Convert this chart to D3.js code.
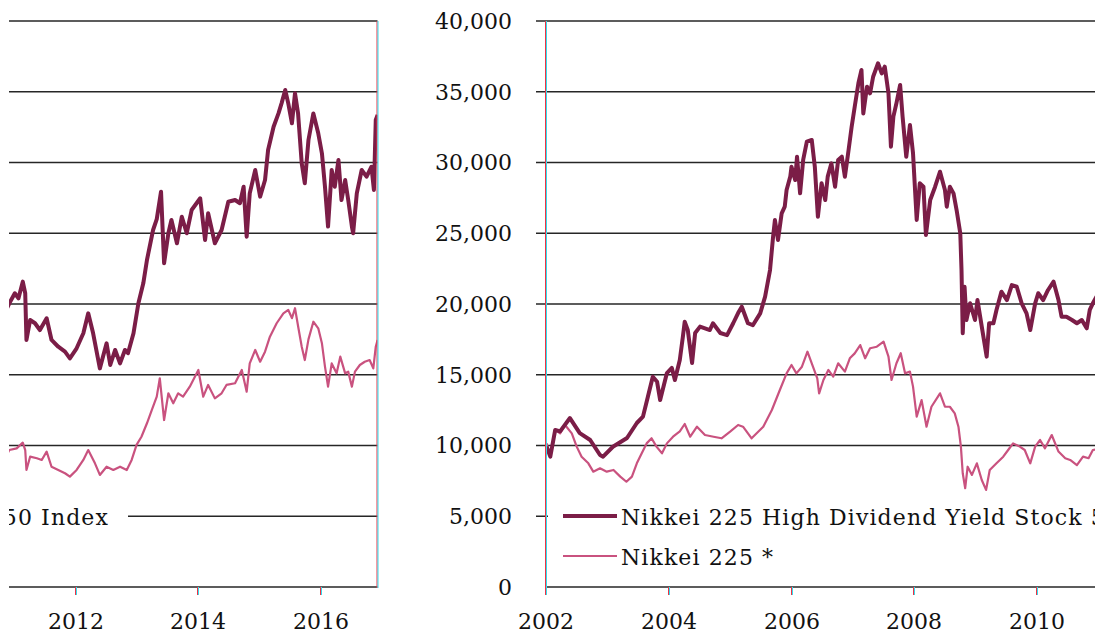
<!DOCTYPE html>
<html>
<head>
<meta charset="utf-8">
<script src="https://cdn.jsdelivr.net/npm/d3@7"></script>
<style>
  body { margin: 0; background: #fff; }
  svg { display: block; }
</style>
</head>
<body>
<div id="chart"></div>
<script>
// year (decimal), index level
var highDividend = [
  [2002.01, 9920], [2002.07, 9210], [2002.15, 11100], [2002.23, 11000], [2002.39, 11940], [2002.55, 10880],
  [2002.72, 10390], [2002.88, 9330], [2002.93, 9210], [2003.09, 9910], [2003.32, 10530], [2003.48, 11590],
  [2003.58, 12040], [2003.66, 13450], [2003.74, 14860], [2003.81, 14500], [2003.86, 13210], [2003.97, 15120],
  [2004.05, 15480], [2004.10, 14630], [2004.18, 16040], [2004.23, 17690], [2004.26, 18750], [2004.31, 18160],
  [2004.38, 15830], [2004.43, 17950], [2004.51, 18400], [2004.67, 18160], [2004.72, 18640], [2004.84, 17950],
  [2004.95, 17800], [2005.05, 18640], [2005.13, 19360], [2005.19, 19810], [2005.29, 18640], [2005.37, 18500],
  [2005.49, 19340], [2005.57, 20520], [2005.65, 22400], [2005.70, 24760], [2005.73, 25940], [2005.78, 24520],
  [2005.84, 26410], [2005.89, 26880], [2005.92, 28060], [2005.98, 29000], [2006.00, 29700], [2006.06, 28760],
  [2006.09, 30410], [2006.14, 27820], [2006.19, 30180], [2006.25, 31470], [2006.33, 31590], [2006.38, 29700],
  [2006.43, 26170], [2006.49, 28530], [2006.55, 27350], [2006.59, 29000], [2006.65, 29940], [2006.71, 28290],
  [2006.76, 30180], [2006.82, 30410], [2006.87, 29000], [2006.93, 30880], [2006.98, 32530], [2007.03, 33940],
  [2007.09, 35600], [2007.14, 36540], [2007.17, 33470], [2007.23, 35360], [2007.28, 34890], [2007.33, 36060],
  [2007.41, 37010], [2007.47, 36300], [2007.52, 36770], [2007.58, 34890], [2007.62, 31120], [2007.66, 33240],
  [2007.71, 34200], [2007.77, 35480], [2007.81, 33240], [2007.87, 30410], [2007.93, 32650], [2007.98, 30650],
  [2008.04, 25940], [2008.09, 28530], [2008.15, 28290], [2008.19, 24880], [2008.26, 27350], [2008.34, 28290],
  [2008.42, 29350], [2008.50, 28060], [2008.53, 26880], [2008.58, 28290], [2008.64, 27820], [2008.69, 26640],
  [2008.75, 25000], [2008.77, 22400], [2008.79, 17930], [2008.82, 21220], [2008.85, 18870], [2008.91, 20050],
  [2008.99, 18870], [2009.03, 20280], [2009.10, 18400], [2009.18, 16280], [2009.22, 18640], [2009.29, 18640],
  [2009.34, 19580], [2009.42, 20870], [2009.51, 20280], [2009.59, 21340], [2009.67, 21220], [2009.75, 20050],
  [2009.83, 19340], [2009.89, 18160], [2009.97, 20050], [2010.02, 20760], [2010.10, 20280], [2010.18, 20990],
  [2010.27, 21580], [2010.35, 20280], [2010.40, 19100], [2010.48, 19100], [2010.57, 18870], [2010.65, 18640],
  [2010.73, 18870], [2010.81, 18280], [2010.86, 19580], [2010.91, 20050], [2011.00, 20760], [2011.06, 20400],
  [2011.13, 21580], [2011.17, 20760], [2011.19, 17460], [2011.25, 18870], [2011.33, 18640], [2011.41, 18160],
  [2011.52, 18990], [2011.60, 17460], [2011.71, 16980], [2011.82, 16630], [2011.90, 16160], [2012.01, 16870],
  [2012.12, 17930], [2012.20, 19340], [2012.28, 17930], [2012.39, 15450], [2012.50, 17220], [2012.56, 15690],
  [2012.64, 16750], [2012.72, 15800], [2012.80, 16750], [2012.85, 16520], [2012.94, 17930], [2013.02, 20050],
  [2013.10, 21460], [2013.16, 23110], [2013.26, 25230], [2013.32, 26000], [2013.39, 27940], [2013.44, 22880],
  [2013.51, 25000], [2013.56, 25940], [2013.65, 24290], [2013.73, 26170], [2013.81, 25000], [2013.89, 26640],
  [2014.03, 27470], [2014.11, 24520], [2014.16, 26410], [2014.27, 24290], [2014.38, 25230], [2014.49, 27230],
  [2014.60, 27350], [2014.68, 27120], [2014.74, 28290], [2014.79, 24760], [2014.84, 27820], [2014.93, 29470],
  [2015.01, 27590], [2015.09, 28760], [2015.14, 30880], [2015.23, 32530], [2015.31, 33470], [2015.36, 34180],
  [2015.42, 35120], [2015.47, 34180], [2015.53, 32770], [2015.58, 34890], [2015.63, 33470], [2015.69, 29940],
  [2015.74, 28530], [2015.80, 31590], [2015.88, 33470], [2015.96, 32060], [2016.02, 30650], [2016.07, 28290],
  [2016.12, 25470], [2016.18, 29470], [2016.23, 28290], [2016.29, 30180], [2016.34, 27350], [2016.40, 28760],
  [2016.45, 27350], [2016.51, 25470], [2016.53, 25000], [2016.59, 27820], [2016.67, 29470], [2016.75, 29000],
  [2016.83, 29700], [2016.87, 28060], [2016.90, 33000], [2016.93, 33360]
];

var nikkei225 = [
  [2002.01, 10150], [2002.07, 9210], [2002.15, 11100], [2002.23, 10860], [2002.31, 11450], [2002.42, 10860],
  [2002.50, 9920], [2002.58, 9210], [2002.69, 8740], [2002.77, 8150], [2002.88, 8390], [2002.99, 8150],
  [2003.10, 8270], [2003.21, 7800], [2003.31, 7440], [2003.40, 7800], [2003.48, 8740], [2003.56, 9450],
  [2003.64, 10150], [2003.72, 10510], [2003.80, 9920], [2003.89, 9450], [2003.97, 10150], [2004.07, 10620],
  [2004.18, 11000], [2004.26, 11520], [2004.35, 10620], [2004.46, 11330], [2004.59, 10740], [2004.73, 10620],
  [2004.86, 10510], [2005.00, 10980], [2005.13, 11450], [2005.21, 11330], [2005.35, 10510], [2005.54, 11330],
  [2005.68, 12510], [2005.81, 13920], [2005.92, 15100], [2006.00, 15690], [2006.08, 15100], [2006.17, 15570],
  [2006.26, 16630], [2006.33, 15810], [2006.42, 14750], [2006.45, 13690], [2006.52, 14630], [2006.60, 15340],
  [2006.68, 14870], [2006.76, 15810], [2006.87, 15220], [2006.95, 16160], [2007.03, 16510], [2007.12, 17100],
  [2007.20, 16160], [2007.28, 16870], [2007.39, 16980], [2007.50, 17340], [2007.58, 16280], [2007.63, 14630],
  [2007.71, 15810], [2007.78, 16520], [2007.85, 15100], [2007.93, 15220], [2007.98, 14160], [2008.04, 12040],
  [2008.12, 13210], [2008.20, 11330], [2008.28, 12740], [2008.42, 13690], [2008.50, 12740], [2008.58, 12740],
  [2008.66, 12270], [2008.72, 11330], [2008.76, 9920], [2008.79, 8040], [2008.83, 6980], [2008.87, 8500],
  [2008.94, 7920], [2009.02, 8740], [2009.10, 7560], [2009.17, 6860], [2009.23, 8270], [2009.34, 8740],
  [2009.45, 9210], [2009.53, 9680], [2009.61, 10150], [2009.72, 9920], [2009.80, 9680], [2009.89, 8740],
  [2009.97, 9920], [2010.05, 10390], [2010.13, 9800], [2010.24, 10740], [2010.35, 9570], [2010.46, 9100],
  [2010.54, 8980], [2010.65, 8620], [2010.75, 9210], [2010.84, 9100], [2010.91, 9680], [2011.03, 9800],
  [2011.13, 10200], [2011.17, 9680], [2011.19, 8270], [2011.25, 9210], [2011.36, 9100], [2011.44, 8980],
  [2011.52, 9570], [2011.60, 8500], [2011.71, 8270], [2011.82, 8040], [2011.90, 7800], [2012.01, 8270],
  [2012.12, 8980], [2012.20, 9680], [2012.31, 8740], [2012.39, 7920], [2012.50, 8500], [2012.61, 8270],
  [2012.72, 8500], [2012.83, 8270], [2012.91, 8980], [2012.99, 10040], [2013.07, 10620], [2013.16, 11570],
  [2013.24, 12510], [2013.32, 13450], [2013.37, 14750], [2013.44, 11800], [2013.51, 13690], [2013.59, 12980],
  [2013.67, 13690], [2013.75, 13450], [2013.86, 14160], [2014.00, 15340], [2014.08, 13450], [2014.16, 14280],
  [2014.27, 13330], [2014.38, 13690], [2014.46, 14280], [2014.60, 14400], [2014.71, 15340], [2014.79, 13800],
  [2014.84, 15800], [2014.93, 16750], [2015.01, 15920], [2015.09, 16630], [2015.17, 17690], [2015.28, 18640],
  [2015.39, 19340], [2015.47, 19580], [2015.53, 19000], [2015.58, 19700], [2015.64, 18200], [2015.69, 16980],
  [2015.74, 16040], [2015.80, 17500], [2015.88, 18750], [2015.96, 18280], [2016.02, 17220], [2016.07, 15570],
  [2016.12, 14160], [2016.18, 15800], [2016.26, 15100], [2016.32, 16280], [2016.40, 15100], [2016.45, 15220],
  [2016.51, 14160], [2016.56, 15220], [2016.64, 15690], [2016.72, 15920], [2016.80, 16040], [2016.86, 15450],
  [2016.90, 16980], [2016.93, 17460]
];

var yTicks = [0, 5000, 10000, 15000, 20000, 25000, 30000, 35000, 40000];
var xTicksRight = [2002, 2004, 2006, 2008, 2010];
var xTicksLeft = [2012, 2014, 2016];
var seriesNames = ["Nikkei 225 High Dividend Yield Stock 50 Index", "Nikkei 225 *"];
var seriesColours = ["#7b1d47", "#c9527f"];
var seriesWidths = [4, 2.2];

var width = 1095, height = 634;
var font = "'DejaVu Serif', 'Liberation Serif', serif";

var svg = d3.select("#chart")
  .append("svg")
  .attr("width", width)
  .attr("height", height);

var y = d3.scaleLinear().domain([0, 40000]).range([587, 21]);

// the chart is wrapped: the later years sit on the left, the start on the right
var panels = [
  {id: "right", x: d3.scaleLinear().domain([2002, 2010]).range([546, 1037]), x0: 546, x1: 1095, ticks: xTicksRight, legendX: 621, anchor: "start"},
  {id: "left", x: d3.scaleLinear().domain([2012, 2016]).range([76, 320.7]), x0: 9, x1: 377.5, ticks: xTicksLeft, legendX: 109, anchor: "end"}
];

var defs = svg.append("defs");

panels.forEach(function(p) {
  defs.append("clipPath")
    .attr("id", "clip-" + p.id)
    .append("rect")
    .attr("x", p.x0).attr("y", 0)
    .attr("width", p.x1 - p.x0).attr("height", 588);

  var g = svg.append("g").attr("class", "panel-" + p.id);

  // gridlines
  g.selectAll(".grid")
    .data(yTicks.slice(1))
    .enter()
    .append("line")
    .attr("x1", p.id == "right" ? p.x0 - 10 : p.x0)
    .attr("x2", p.x1)
    .attr("y1", function(d) { return y(d); })
    .attr("y2", function(d) { return y(d); })
    .style("stroke", "#262626")
    .style("stroke-width", 1.7);

  var plot = g.append("g").attr("clip-path", "url(#clip-" + p.id + ")");

  var line = d3.line()
    .x(function(d) { return p.x(d[0]); })
    .y(function(d) { return y(d[1]); });

  [nikkei225, highDividend].forEach(function(s, i) {
    var k = 1 - i;
    plot.append("path")
      .datum(s)
      .attr("d", line)
      .style("fill", "none")
      .style("stroke", seriesColours[k])
      .style("stroke-width", seriesWidths[k])
      .style("stroke-linejoin", "round");
  });

  // legend box (it runs across the wrap)
  var lg = plot.append("g").attr("class", "legend");
  lg.append("rect")
    .attr("x", p.id == "right" ? 548 : 0)
    .attr("y", 498)
    .attr("width", p.id == "right" ? 560 : 128)
    .attr("height", 76)
    .style("fill", "#fff");

  seriesNames.forEach(function(name, i) {
    if (p.id == "right") {
      lg.append("line")
        .attr("x1", 563).attr("x2", 617)
        .attr("y1", 516 + i * 40).attr("y2", 516 + i * 40)
        .style("stroke", seriesColours[i])
        .style("stroke-width", seriesWidths[i]);
    }
    if (p.id == "right" || i == 0) {
      lg.append("text")
        .attr("x", p.legendX)
        .attr("y", 525 + i * 40)
        .attr("text-anchor", p.anchor)
        .text(name)
        .style("font-family", font)
        .style("font-size", "22px")
        .style("letter-spacing", "1.1px")
        .style("fill", "#111");
    }
  });

  // x axis
  g.append("line")
    .attr("x1", p.x0).attr("x2", p.x1)
    .attr("y1", 587).attr("y2", 587)
    .style("stroke", "#262626")
    .style("stroke-width", 1.7);

  var tk = g.selectAll(".xtick")
    .data(p.ticks)
    .enter()
    .append("g")
    .attr("transform", function(d) { return "translate(" + Math.round(p.x(d)) + ",0)"; });
  tk.append("line")
    .attr("x1", -0.5).attr("x2", -0.5)
    .attr("y1", 587).attr("y2", 595)
    .style("stroke", "#ee3344");
  tk.append("line")
    .attr("x1", 0.5).attr("x2", 0.5)
    .attr("y1", 587).attr("y2", 595)
    .style("stroke", "#33ddee");
  tk.append("text")
    .attr("y", 629)
    .attr("text-anchor", "middle")
    .text(function(d) { return d; })
    .style("font-family", font)
    .style("font-size", "22px")
    .style("fill", "#111");

  // vertical edge: y axis on the right panel, plot border on the left one
  var ex = p.id == "right" ? 546 : 377.5;
  g.append("line")
    .attr("x1", ex - 0.5).attr("x2", ex - 0.5)
    .attr("y1", 21).attr("y2", 588)
    .style("stroke", "#ee3344");
  g.append("line")
    .attr("x1", ex + 0.5).attr("x2", ex + 0.5)
    .attr("y1", 21).attr("y2", 588)
    .style("stroke", "#33ddee");
});

// y tick labels
svg.append("g")
  .selectAll("text")
  .data(yTicks)
  .enter()
  .append("text")
  .attr("x", 512)
  .attr("y", function(d) { return y(d); })
  .attr("dy", "0.36em")
  .attr("text-anchor", "end")
  .text(function(d) { return d3.format(",")(d); })
  .style("font-family", font)
  .style("font-size", "22px")
  .style("fill", "#111");
</script>
</body>
</html>
